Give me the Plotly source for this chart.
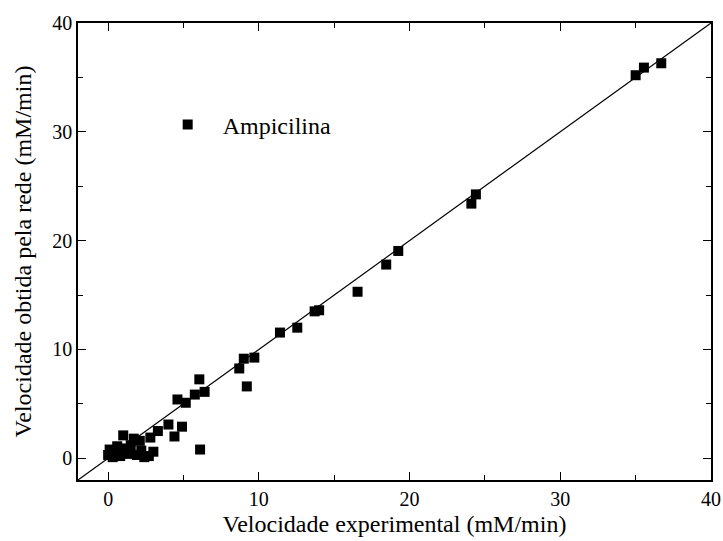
import plotly.graph_objects as go

# Experimental vs. network-predicted rates (mM/min)
vel_experimental = [
    0.0, 0.1, 0.3, 0.5, 0.6, 0.8, 1.0, 1.1, 1.3, 1.5, 1.7, 1.9, 2.1, 2.2,
    2.4, 2.7, 2.8, 3.0, 3.3, 4.0, 4.4, 4.9, 4.6, 5.15, 5.75, 6.05, 6.4, 6.1,
    8.7, 9.0, 9.2, 9.7, 11.4, 12.55, 13.7, 14.0, 16.55, 18.45, 19.25,
    24.1, 24.4, 35.0, 35.55, 36.7,
]
vel_rede = [
    0.3, 0.8, 0.1, 0.5, 1.1, 0.2, 2.1, 0.9, 0.4, 1.2, 1.8, 0.3, 1.6, 0.7,
    0.1, 0.2, 1.9, 0.6, 2.5, 3.1, 2.0, 2.9, 5.4, 5.1, 5.85, 7.25, 6.1, 0.8,
    8.25, 9.15, 6.6, 9.25, 11.55, 12.0, 13.5, 13.6, 15.3, 17.8, 19.05,
    23.4, 24.25, 35.2, 35.9, 36.3,
]

# Ideal agreement line y = x
ideal = [-2, 40]

x_ticks = [0, 10, 20, 30, 40]
y_ticks = [0, 10, 20, 30, 40]

serif = "'Times New Roman', 'Liberation Serif', 'DejaVu Serif', serif"

fig = go.Figure()
fig.add_trace(go.Scatter(
    x=ideal, y=ideal, mode="lines",
    line=dict(color="black", width=1.2),
    showlegend=False, hoverinfo="skip",
))
fig.add_trace(go.Scatter(
    x=vel_experimental, y=vel_rede, mode="markers",
    name="Ampicilina",
    marker=dict(symbol="square", size=10, color="black", line=dict(width=0)),
))

axis_common = dict(
    showline=True, linecolor="black", linewidth=1.5, mirror="allticks",
    ticks="inside", ticklen=8, tickwidth=1.3, tickcolor="black",
    showgrid=False, zeroline=False, automargin=False,
    tickfont=dict(family=serif, size=20, color="black"),
    minor=dict(ticks="inside", ticklen=5, tickwidth=1.3, tickcolor="black", dtick=5),
)

fig.update_xaxes(
    range=[-2, 40], tickvals=x_ticks, ticktext=[str(v) for v in x_ticks],
    title=dict(text="Velocidade experimental (mM/min)",
               font=dict(family=serif, size=24, color="black"), standoff=6),
    **axis_common,
)
fig.update_yaxes(
    range=[-2, 40], tickvals=y_ticks, ticktext=[str(v) for v in y_ticks],
    title=dict(text="Velocidade obtida pela rede (mM/min)",
               font=dict(family=serif, size=24, color="black"), standoff=14),
    **axis_common,
)

fig.update_layout(
    width=723, height=541,
    margin=dict(l=78, r=12, t=23, b=61),
    paper_bgcolor="white", plot_bgcolor="white",
    font=dict(family=serif, color="black"),
    legend=dict(
        x=0.118, y=0.777, xanchor="left", yanchor="middle",
        bgcolor="rgba(0,0,0,0)", itemwidth=60,
        font=dict(family=serif, size=24, color="black"),
    ),
)

fig.write_html("out.html")
